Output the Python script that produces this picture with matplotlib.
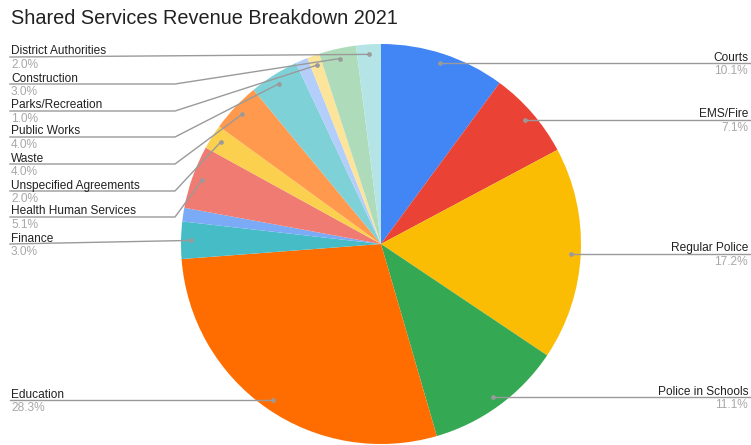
import numpy as np
import matplotlib
matplotlib.use("Agg")
import matplotlib.pyplot as plt

plt.rcParams['font.family'] = ['Liberation Sans', 'DejaVu Sans']

# Revenue shares by service area, clockwise from 12 o'clock
categories = ["Courts", "EMS/Fire", "Regular Police", "Police in Schools", "Education",
              "Finance", "Other 1", "Health Human Services", "Unspecified Agreements",
              "Waste", "Public Works", "Other 2", "Parks/Recreation", "Construction",
              "District Authorities"]
values = [10.1, 7.1, 17.2, 11.1, 28.3, 3.0, 1.1, 5.1, 2.0, 4.0, 4.0, 1.0, 1.0, 3.0, 2.0]
show_label = [True, True, True, True, True, True, False, True, True, True, True,
              False, True, True, True]
colors = ["#4285F4", "#EA4335", "#FBBC04", "#34A853", "#FF6D01", "#46BDC6", "#7BAAF7",
          "#F07B72", "#FCD04F", "#FF994D", "#7ED1D7", "#B3CEFB", "#FDE49B", "#AEDCBA",
          "#B5E4E7"]

W, H = 751, 445
fig = plt.figure(figsize=(W / 100, H / 100), dpi=100)

# Pie geometry in pixels
cx, cy, R = 381, 244, 200
ax = fig.add_axes([(cx - R) / W, (H - cy - R) / H, 2 * R / W, 2 * R / H])
wedges, _ = ax.pie(values, colors=colors, startangle=90, counterclock=False,
                   radius=1.0, wedgeprops=dict(linewidth=0))
ax.set_xlim(-1, 1)
ax.set_ylim(-1, 1)
ax.axis('off')

# Overlay in pixel coordinates (y downward) for labels and leader lines
ov = fig.add_axes([0, 0, 1, 1], zorder=5)
ov.set_xlim(0, W)
ov.set_ylim(H, 0)
ov.axis('off')

ov.text(11, 18, "Shared Services Revenue Breakdown 2021", fontsize=14.3,
        color="#222222", va='center', ha='left')

line_c = "#9a9a9a"
name_c = "#222222"
pct_c = "#a8a8a8"
fs = 8.6

total = sum(values)

# Left-hand label rows: line y and elbow x (None = straight to the dot)
left_rows = {
    "District Authorities": (57, None),
    "Construction": (84, 175),
    "Parks/Recreation": (111, 175),
    "Public Works": (137, 175),
    "Waste": (164, 175),
    "Unspecified Agreements": (191, 175),
    "Health Human Services": (217, 175),
    "Finance": (244, None),
    "Education": (None, None),
}
right_side = {"Courts", "EMS/Fire", "Regular Police", "Police in Schools"}


def label(x, ly, name, pct, ha):
    ov.text(x, ly - 2.5, name, fontsize=fs, color=name_c, ha=ha, va='baseline')
    ov.text(x, ly + 2, pct, fontsize=fs, color=pct_c, ha=ha, va='top')


for w, name, v, show in zip(wedges, categories, values, show_label):
    if not show:
        continue
    mid = np.deg2rad((w.theta1 + w.theta2) / 2)
    dx = cx + 0.95 * R * np.cos(mid)
    dy = cy - 0.95 * R * np.sin(mid)
    pct = f"{100 * v / total:.1f}%"
    if name in right_side:
        ov.plot([dx, 751], [dy, dy], color=line_c, lw=1)
        ov.plot([dx], [dy], 'o', ms=3.4, color=line_c, mec='none')
        label(748, dy, name, pct, 'right')
    else:
        ly, ex = left_rows[name]
        if ly is None:
            ly = dy
        if ex is None:
            xs, ys = [10, dx], [ly, dy]
        else:
            xs, ys = [10, ex, dx], [ly, ly, dy]
        ov.plot(xs, ys, color=line_c, lw=1)
        ov.plot([dx], [dy], 'o', ms=3.4, color=line_c, mec='none')
        label(11, ly, name, pct, 'left')

fig.savefig("out.png", dpi=100, facecolor="white")
